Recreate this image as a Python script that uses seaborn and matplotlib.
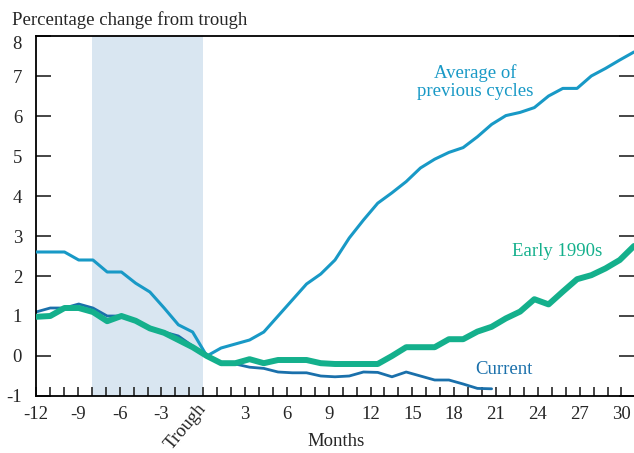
import numpy as np
import pandas as pd
import matplotlib
matplotlib.use("Agg")
import matplotlib.pyplot as plt
import seaborn as sns

# ---- data (months relative to the trough) ----
avg_months = list(range(-12, 31))
avg_values = [2.6, 2.6, 2.6, 2.4, 2.4, 2.1, 2.1, 1.82, 1.6, 1.2, 0.78, 0.6,
              0.0, 0.2, 0.3, 0.4, 0.6, 1.0, 1.4, 1.8, 2.05, 2.4, 2.95, 3.4,
              3.82, 4.08, 4.36, 4.7, 4.92, 5.09, 5.21, 5.48, 5.79, 6.01, 6.09, 6.21,
              6.5, 6.69, 6.69, 7.0, 7.19, 7.4, 7.6]

e90_months = list(range(-12, 31))
e90_values = [0.98, 1.0, 1.2, 1.2, 1.1, 0.87, 1.0, 0.88, 0.69, 0.58, 0.4, 0.22,
              0.0, -0.18, -0.18, -0.08, -0.18, -0.1, -0.1, -0.1, -0.18, -0.2, -0.2, -0.2,
              -0.2, 0.0, 0.22, 0.22, 0.22, 0.42, 0.42, 0.61, 0.73, 0.94, 1.11, 1.42,
              1.29, 1.61, 1.92, 2.02, 2.19, 2.4, 2.75]

cur_months = list(range(-12, 21))
cur_values = [1.1, 1.2, 1.2, 1.3, 1.2, 1.0, 1.0, 0.9, 0.7, 0.6, 0.5, 0.25,
              0.0, -0.2, -0.2, -0.28, -0.31, -0.4, -0.42, -0.42, -0.5, -0.52, -0.5, -0.4,
              -0.41, -0.52, -0.4, -0.5, -0.6, -0.6, -0.7, -0.81, -0.82]

recession_start, recession_end = -8, 0

xtick_months = [-12, -9, -6, -3, 0, 3, 6, 9, 12, 15, 18, 21, 24, 27, 30]
xtick_labels = ["-12", "-9", "-6", "-3", "Trough", "3", "6", "9", "12", "15",
                "18", "21", "24", "27", "30"]
ytick_pos = [-1, 0, 1, 2, 3, 4, 5, 6, 7, 8]

# ---- layout ----
XMIN, XMAX = -12, 30
TICK_STEP = 0.979   # the printed tick ruler is slightly narrower than the data scale


def tick_pos(t):
    return XMIN + (t - XMIN) * TICK_STEP


sns.set_style("ticks")
plt.rcParams["font.family"] = ["Liberation Serif", "DejaVu Serif"]
FS = 13.5

c_avg = "#1899c6"
c_cur = "#1a70ab"
c_e90 = "#14b08c"

df = pd.concat([
    pd.DataFrame({"month": avg_months, "value": avg_values, "series": "avg"}),
    pd.DataFrame({"month": cur_months, "value": cur_values, "series": "cur"}),
    pd.DataFrame({"month": e90_months, "value": e90_values, "series": "e90"}),
])

fig = plt.figure(figsize=(6.34, 4.53), dpi=100)
ax = fig.add_axes([36 / 634, 1 - 396 / 453, 1 - 36 / 634, (396 - 36) / 453])

ax.axvspan(tick_pos(recession_start), tick_pos(recession_end), color="#d9e6f1",
           zorder=0, lw=0)

sns.lineplot(data=df[df.series == "avg"], x="month", y="value", color=c_avg,
             lw=2.2, ax=ax, zorder=3)
sns.lineplot(data=df[df.series == "cur"], x="month", y="value", color=c_cur,
             lw=2.0, ax=ax, zorder=2)
sns.lineplot(data=df[df.series == "e90"], x="month", y="value", color=c_e90,
             lw=4.3, ax=ax, zorder=4)

ax.set_xlim(XMIN, XMAX)
ax.set_ylim(-1, 8)
ax.set_ylabel("")
ax.set_xlabel("Months", fontsize=FS)
ax.xaxis.label.set_va("center")
ax.xaxis.set_label_coords((336 - 36) / 598, -(441 - 396) / 360)

ax.set_yticks(ytick_pos)
ax.set_yticklabels([str(v) for v in ytick_pos], fontsize=FS)
ax.set_xticks([tick_pos(t) for t in xtick_months])
ax.set_xticklabels(xtick_labels, fontsize=FS)
ax.set_xticks([tick_pos(t) for t in range(-12, 31)], minor=True)

ax.tick_params(axis="y", which="both", direction="in", length=10.5, width=1.2,
               left=True, right=True, pad=10)
ax.tick_params(axis="x", which="both", direction="in", length=6.5, width=1.2,
               bottom=True, top=False, pad=7)

for lbl in ax.get_yticklabels():
    if lbl.get_text() == "8":
        lbl.set_va("top")

for lbl in ax.get_xticklabels():
    if lbl.get_text() == "Trough":
        lbl.set_rotation(50)
        lbl.set_ha("right")
        lbl.set_va("center")
        lbl.set_rotation_mode("anchor")

for side in ["left", "top", "bottom"]:
    ax.spines[side].set_linewidth(1.3)
    ax.spines[side].set_color("black")
ax.spines["right"].set_visible(False)

fig.text(12 / 634, 1 - 20 / 453, "Percentage change from trough", fontsize=FS,
         ha="left", va="center")

ax.text(18.85, 6.85, "Average of\nprevious cycles", color=c_avg, fontsize=FS,
        ha="center", va="center", linespacing=1.05)
ax.text(24.6, 2.62, "Early 1990s", color=c_e90, fontsize=FS,
        ha="center", va="center")
ax.text(20.9, -0.35, "Current", color=c_cur, fontsize=FS,
        ha="center", va="center")

fig.savefig("out.png", dpi=100)
